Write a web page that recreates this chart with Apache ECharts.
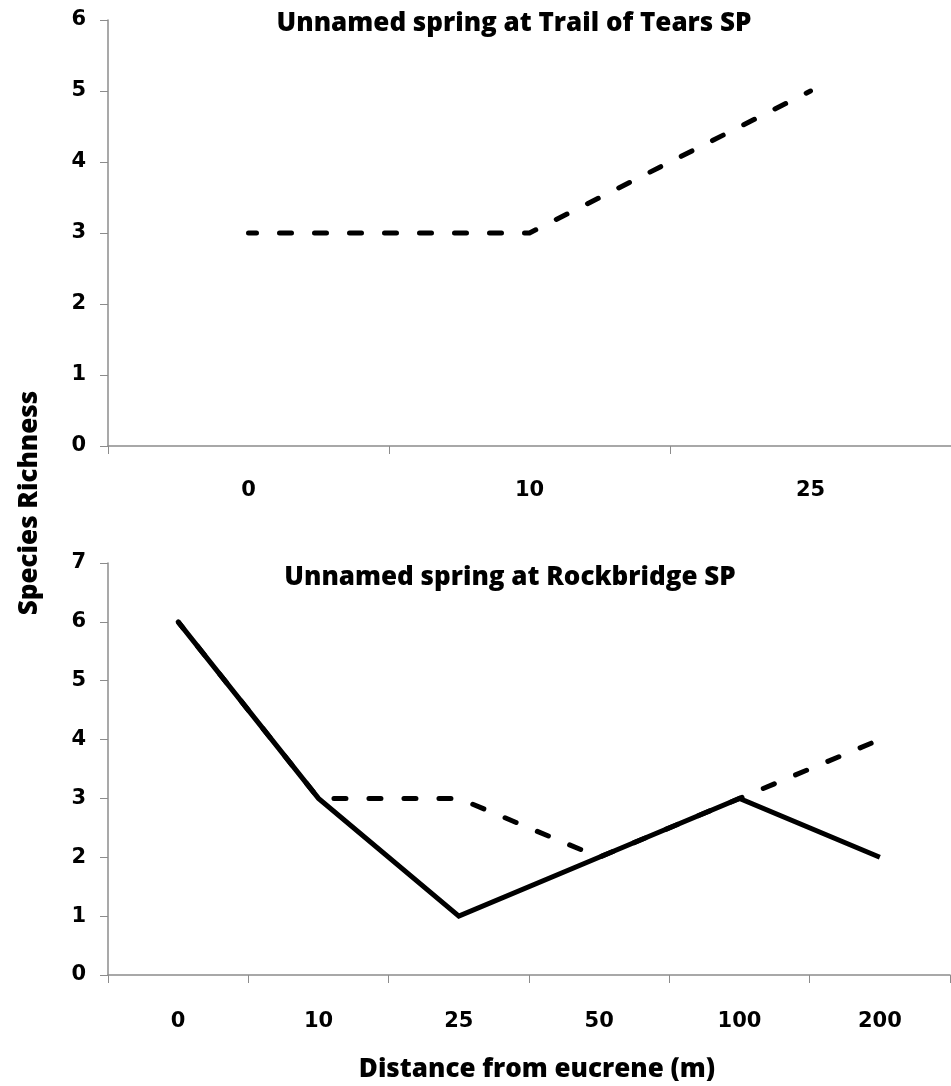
<!DOCTYPE html>
<html>
<head>
<meta charset="utf-8">
<script src="https://cdn.jsdelivr.net/npm/echarts@6/dist/echarts.min.js"></script>
<style>
  html, body { margin: 0; padding: 0; background: #fff; }
  #chart { width: 951px; height: 1086px; }
</style>
</head>
<body>
<div id="chart"></div>
<script>
// Trail of Tears SP spring
const trailCategories = ['0', '10', '25'];
const trailRichness = [3, 3, 5];

// Rockbridge SP spring
const rockCategories = ['0', '10', '25', '50', '100', '200'];
const rockSolid = [6, 3, 1, 2, 3, 2];
const rockDashed = [6, 3, 3, 2, 3, 4];

const titleTop = 'Unnamed spring at Trail of Tears SP';
const titleBottom = 'Unnamed spring at Rockbridge SP';
const yTitle = 'Species Richness';
const xTitle = 'Distance from eucrene (m)';

const tickFont = '"DejaVu Sans"';
const headFont = '"Open Sans", Lato, sans-serif';
const axisGray = '#8c8c8c';

const chart = echarts.init(document.getElementById('chart'), null, { renderer: 'canvas' });

function xAxisFor(cats, gridIndex, labelMargin) {
  return {
    type: 'category', gridIndex, data: cats, boundaryGap: true,
    axisLine: { show: true, lineStyle: { color: axisGray, width: 1.5 } },
    axisTick: { show: true, length: 8, inside: false, lineStyle: { color: axisGray, width: 1 } },
    axisLabel: { color: '#000', fontFamily: tickFont, fontWeight: 'bold', fontSize: 21, margin: labelMargin },
    splitLine: { show: false }
  };
}
function yAxisFor(max, gridIndex) {
  return {
    type: 'value', gridIndex, min: 0, max, interval: 1,
    axisLine: { show: true, lineStyle: { color: axisGray, width: 1.5 } },
    axisTick: { show: true, length: 8, lineStyle: { color: axisGray, width: 1 } },
    axisLabel: { color: '#000', fontFamily: tickFont, fontWeight: 'bold', fontSize: 21, margin: 22 },
    splitLine: { show: false }
  };
}

const dashStyle = { color: '#000', width: 5, type: [12, 23], dashOffset: 4, cap: 'round', join: 'round' };
const solidStyle = { color: '#000', width: 5, type: 'solid', cap: 'butt', join: 'miter' };

function headText(text, x, y, rotation) {
  return {
    type: 'text', x, y, rotation: rotation || 0,
    style: { text, fill: '#000', font: '800 26px ' + headFont, align: 'center', verticalAlign: 'middle' }
  };
}

chart.setOption({
  animation: false,
  backgroundColor: '#fff',
  graphic: [
    headText(titleTop, 514, 24),
    headText(titleBottom, 510, 578),
    headText(xTitle, 537, 1070),
    headText(yTitle, 30, 503, Math.PI / 2)
  ],
  grid: [
    { left: 108, top: 20, width: 852, height: 426, containLabel: false },
    { left: 108, top: 563, width: 842, height: 412, containLabel: false }
  ],
  xAxis: [xAxisFor(trailCategories, 0, 34), xAxisFor(rockCategories, 1, 36)],
  yAxis: [yAxisFor(6, 0), yAxisFor(7, 1)],
  series: [
    { type: 'line', xAxisIndex: 0, yAxisIndex: 0, data: trailRichness,
      symbol: 'none', lineStyle: dashStyle, silent: true },
    { type: 'line', xAxisIndex: 1, yAxisIndex: 1, data: rockDashed,
      symbol: 'none', lineStyle: dashStyle, silent: true, z: 2 },
    { type: 'line', xAxisIndex: 1, yAxisIndex: 1, data: rockSolid,
      symbol: 'none', lineStyle: solidStyle, silent: true, z: 3 }
  ]
});
</script>
</body>
</html>
